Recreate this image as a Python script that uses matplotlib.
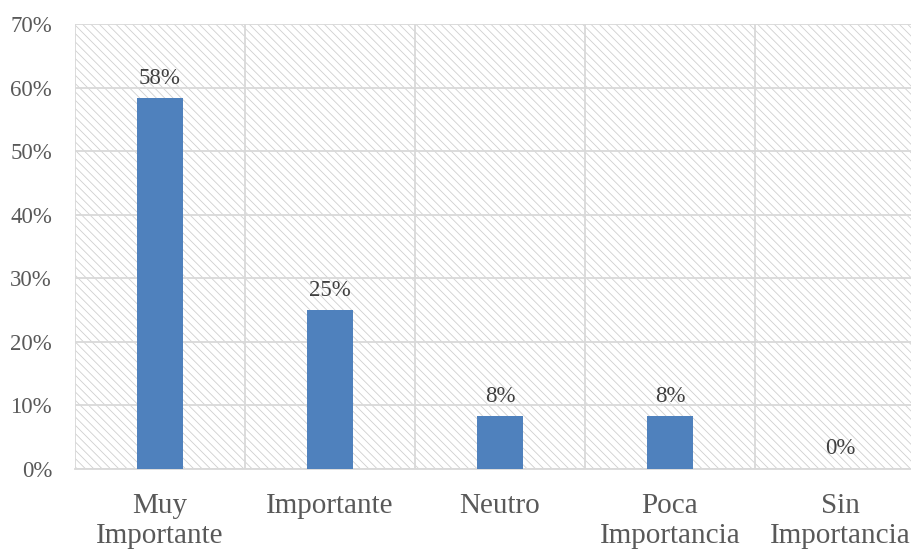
import matplotlib
matplotlib.use("Agg")
import matplotlib.pyplot as plt
from matplotlib.patches import Rectangle

categories = ["Muy\nImportante", "Importante", "Neutro", "Poca\nImportancia", "Sin\nImportancia"]
values = [58.33, 25.0, 8.33, 8.33, 0.0]
value_labels = ["58%", "25%", "8%", "8%", "0%"]
yticks = [0, 10, 20, 30, 40, 50, 60, 70]
ytick_labels = ["0%", "10%", "20%", "30%", "40%", "50%", "60%", "70%"]

plt.rcParams['font.family'] = ['Liberation Serif', 'DejaVu Serif']
plt.rcParams['hatch.linewidth'] = 0.6

fig = plt.figure(figsize=(9.12, 5.52), dpi=100)
ax = fig.add_axes([75/912, 83/552, 850/912, 445/552])
ax.patch.set_visible(False)

bg = Rectangle((0, 0), 1, 1, transform=ax.transAxes, facecolor='white',
               edgecolor='#cfcfcf', linewidth=0, hatch='\\\\\\\\', zorder=0)
ax.add_patch(bg)

x = list(range(len(categories)))
ax.bar(x, values, width=0.27, color='#4f81bd', zorder=3)
for xi, v, lab in zip(x, values, value_labels):
    ax.text(xi, v + 1.5, lab, ha='center', va='bottom', fontsize=16.5, color='#404040')

ax.set_xlim(-0.5, 4.5)
ax.set_ylim(0, 70)
ax.set_yticks(yticks)
ax.set_yticklabels(ytick_labels, fontsize=16.5)
ax.set_xticks(x)
ax.set_xticklabels(categories, linespacing=1.22, fontsize=21)
ax.set_xticks([i + 0.5 for i in range(-1, 5)], minor=True)

ax.grid(axis='y', which='major', color='#d9d9d9', linewidth=1.3, zorder=1)
ax.grid(axis='x', which='minor', color='#d9d9d9', linewidth=1.3, zorder=1)
ax.grid(axis='x', which='major', visible=False)
ax.set_axisbelow(True)

ax.tick_params(axis='both', which='both', length=0, colors='#595959')
ax.tick_params(axis='y', pad=16.5)
ax.tick_params(axis='x', pad=17)
for s in ['top', 'right', 'left']:
    ax.spines[s].set_visible(False)
ax.spines['bottom'].set_color('#d9d9d9')
ax.spines['bottom'].set_linewidth(1.3)

fig.savefig("out.png", dpi=100)
